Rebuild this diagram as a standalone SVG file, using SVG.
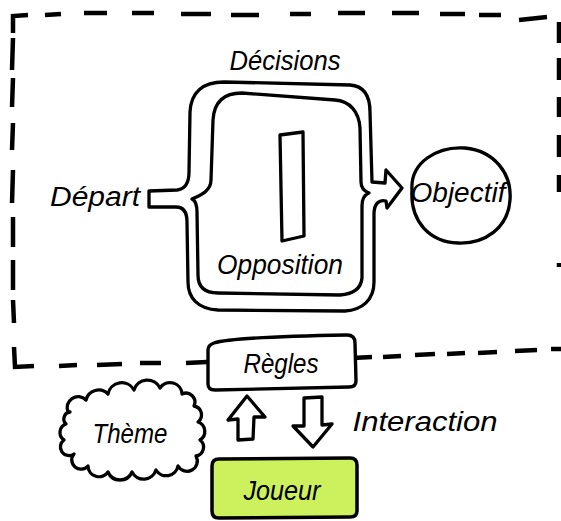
<svg xmlns="http://www.w3.org/2000/svg" width="561" height="521" viewBox="0 0 561 521">
  <style>
    .ln { fill: none; stroke: #000; stroke-width: 3.3; stroke-linejoin: round; stroke-linecap: round; }
    .box { fill: #fff; stroke: #000; stroke-width: 3.4; stroke-linejoin: round; }
    .dash { fill: none; stroke: #000; stroke-width: 4.5; stroke-linecap: butt; stroke-linejoin: miter; }
    .t { font-family: "Liberation Sans", "DejaVu Sans", sans-serif; font-style: italic; font-size: 27px; fill: #000; text-anchor: middle; }
  </style>
  <rect width="561" height="521" fill="#fff"/>

  <g id="boundary">
    <path class="dash" d="M13 33 L13 16 L28 15 M45 15 L61 14 M84 13 L107 13 M132 13 L154 13 M181 14 L211 14 M231 15 L259 15 M290 14 L311 14 M338 13 L365 13 M392 13 L419 13 M440 14 L465 14 M479 15 L501 15 M519 20 L547 17
      M13 38 L12 70 M13 78 L12 107 M13 123 L12 150 M13 170 L12 203 M13 217 L13 247 M13 260 L13 290 M13 300 L14 323 M14 347 L15 367 L34 366
      M59 366 L77 365 M97 365 L122 364 M140 363 L161 363 M186 363 L207 362
      M352 358 L372 357 M383 357 L401 356 M415 355 L435 354 M447 354 L465 353 M478 353 L497 352 M515 351 L537 350 M551 349 L561 349
      M559 22 L559 43 M559 58 L559 80 M559 97 L559 117 M559 135 L559 157 M559 175 L559 192 M559 263 L559 267"/>
  </g>

  <g id="game-loop">
    <path class="ln" d="M149 191 L177 190 C186 189 189 182 189 172 L190 112 C191 92 203 82 224 82 L350 85 C364 86 370 96 370 112 L372 182 L385 183 L386 170 L402 188 L387 208 L386 201 C379 199 374 204 374 214 L374 282 C374 300 362 310 345 311 L218 310 C198 309 188 298 188 282 L187 222 C187 212 183 207 176 207 L149 207 Z"/>
    <path class="ln" d="M213 120 C214 102 224 93 242 93 L335 100 C350 101 359 112 360 128 L361 182 C361 188 364 191 369 193 C364 195 362 199 362 206 L362 278 C361 289 353 294 340 295 L218 293 C205 293 198 287 198 275 L197 212 C197 205 196 201 192 199 C198 196 211 192 211 180 Z"/>
    <path class="ln" d="M280 135 L303 132 L304 236 L282 241 Z"/>
    <text class="t" x="285" y="70" textLength="111" lengthAdjust="spacingAndGlyphs">Décisions</text>
    <text class="t" x="280" y="274" textLength="126" lengthAdjust="spacingAndGlyphs">Opposition</text>
  </g>

  <g id="depart">
    <text class="t" x="95" y="206" textLength="90" lengthAdjust="spacingAndGlyphs">Départ</text>
  </g>

  <g id="objectif">
    <path class="ln" d="M412 190 C410 162 438 146 465 148 C495 151 512 174 510 200 C508 228 485 244 458 243 C430 242 410 222 412 190 Z" stroke-width="3.6"/>
    <text class="t" x="458" y="202" textLength="95" lengthAdjust="spacingAndGlyphs">Objectif</text>
  </g>

  <g id="regles">
    <path class="box" d="M214 343 Q232 337 347 335 Q355 335 355 343 L356 381 Q356 387 349 387 L215 390 Q208 390 208 384 L208 350 Q208 345 214 343 Z"/>
    <text class="t" x="281" y="373" textLength="75" lengthAdjust="spacingAndGlyphs">Règles</text>
  </g>

  <g id="theme">
    <path class="ln" d="M68 412 a11 11 0 0 1 18 -12 a13 13 0 0 1 22 -6 a14 14 0 0 1 26 -4 a14 14 0 0 1 26 -2 a12 12 0 0 1 22 6 a9 9 0 0 1 12 12 a9 9 0 0 1 4 16 a10 10 0 0 1 2 18 a9 9 0 0 1 -4 16 a10 10 0 0 1 -18 10 a12 12 0 0 1 -22 4 a13 13 0 0 1 -24 2 a13 13 0 0 1 -24 0 a11 11 0 0 1 -20 -6 a9 9 0 0 1 -14 -12 a8 8 0 0 1 -10 -14 a9 9 0 0 1 2 -16 a7 7 0 0 1 4 -12 Z"/>
    <text class="t" x="130" y="443" textLength="75" lengthAdjust="spacingAndGlyphs">Thème</text>
  </g>

  <g id="joueur">
    <path d="M219 459 L350 458 Q357 458 357 465 L357 511 Q357 517 350 517 L219 518 Q212 518 212 511 L212 466 Q212 459 219 459 Z" fill="#ccf15c" stroke="#000" stroke-width="3.5" stroke-linejoin="round"/>
    <text class="t" x="282" y="500" textLength="77" lengthAdjust="spacingAndGlyphs">Joueur</text>
  </g>

  <g id="connectors">
    <path class="ln" d="M247 396 L265 417 L254 417 L253 439 L238 440 L238 419 L228 420 Z"/>
    <path class="ln" d="M304 398 L322 397 L322 425 L332 424 L313 447 L293 426 L304 426 Z"/>
    <text class="t" x="425" y="431" textLength="145" lengthAdjust="spacingAndGlyphs">Interaction</text>
  </g>
</svg>
